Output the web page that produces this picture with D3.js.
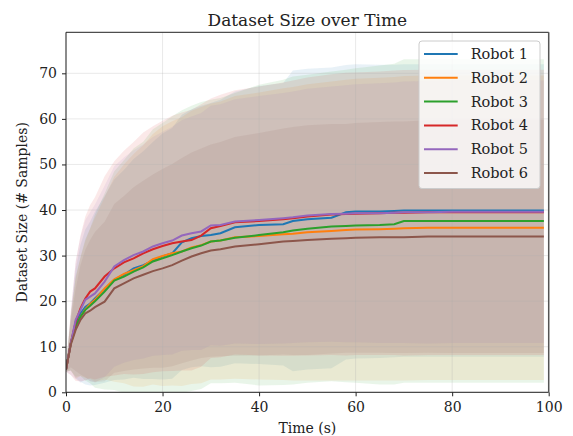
<!DOCTYPE html>
<html>
<head>
<meta charset="utf-8">
<script src="https://cdn.jsdelivr.net/npm/d3@7"></script>
<style>
  body { margin: 0; background: #fff; }
  text { font-family: "DejaVu Serif", serif; fill: #222; }
</style>
</head>
<body>
<svg id="chart" width="573" height="436"></svg>
<script>
// time samples (s)
const time = [0, 1, 2, 3, 4, 5, 6, 8, 10, 12, 14, 16, 18, 20, 22, 24, 26, 28, 30, 32, 35, 40, 45, 47, 50, 55, 58, 60, 65, 68, 70, 75, 80, 90, 99];

// mean dataset size per robot
const robot1Mean = [5, 10.8, 15.1, 17.3, 18.7, 19.5, 20.6, 22.6, 24.7, 25.8, 27.2, 27.9, 28.9, 29.8, 30.5, 32.9, 33.8, 34.3, 34.5, 34.9, 36.2, 36.7, 36.9, 37.6, 38.0, 38.3, 39.5, 39.7, 39.7, 39.8, 39.9, 39.9, 39.9, 39.9, 39.9];
const robot2Mean = [5, 10.8, 14.0, 16.6, 18.2, 19.4, 20.3, 22.8, 24.8, 26.0, 26.8, 27.7, 29.2, 29.9, 30.5, 30.9, 31.8, 32.3, 33.1, 33.3, 34.0, 34.3, 34.7, 34.8, 35.1, 35.4, 35.6, 35.7, 35.8, 35.9, 36.0, 36.1, 36.1, 36.1, 36.1];
const robot3Mean = [5, 10.8, 14.4, 16.6, 18.1, 19.0, 20.0, 22.1, 24.5, 25.4, 26.5, 27.4, 28.7, 29.4, 30.1, 30.9, 31.6, 32.2, 33.1, 33.3, 33.9, 34.5, 35.1, 35.5, 35.9, 36.4, 36.5, 36.6, 36.7, 36.9, 37.6, 37.6, 37.6, 37.6, 37.6];
const robot4Mean = [5, 10.8, 15.5, 18.4, 20.6, 22.1, 22.8, 25.4, 27.2, 28.5, 29.4, 30.5, 31.4, 32.1, 32.7, 33.1, 33.4, 34.4, 36.0, 36.5, 37.3, 37.6, 38.0, 38.2, 38.6, 39.0, 39.1, 39.2, 39.3, 39.4, 39.4, 39.5, 39.5, 39.5, 39.5];
const robot5Mean = [5, 10.8, 15.9, 18.1, 20.3, 21.0, 21.7, 24.3, 27.6, 29.0, 30.1, 30.9, 32.0, 32.7, 33.3, 34.4, 34.9, 35.3, 36.6, 36.7, 37.5, 37.8, 38.2, 38.4, 38.8, 39.1, 39.2, 39.3, 39.3, 39.4, 39.5, 39.5, 39.6, 39.6, 39.6];
const robot6Mean = [5, 10.5, 13.7, 15.9, 17.3, 17.9, 18.7, 19.9, 22.8, 23.9, 25.0, 25.8, 26.6, 27.2, 27.9, 28.9, 29.8, 30.5, 31.1, 31.4, 32.0, 32.5, 33.1, 33.2, 33.4, 33.7, 33.8, 33.9, 34.0, 34.0, 34.0, 34.2, 34.2, 34.2, 34.2];

// standard deviation per robot (shaded band = mean +/- std)
const robot1Std = [0.5, 6, 12, 15, 17, 18, 19, 20.5, 22, 23, 24, 25, 26, 27, 27.5, 28, 28.3, 28.6, 29, 29.3, 29.8, 30.5, 31, 33, 33, 33, 32.3, 32.3, 32.2, 32.1, 32.1, 32.1, 32.1, 32.1, 32.1];
const robot2Std = [0.5, 6, 11, 13, 15, 16.5, 18, 20, 22.5, 24, 25.5, 26.5, 27.5, 28.5, 29, 29.5, 30, 30.3, 30.3, 30.5, 31, 31.5, 32, 32.2, 32.5, 32.8, 33, 33.1, 33.2, 33.3, 33.4, 33.4, 33.4, 33.4, 33.4];
const robot3Std = [0.5, 6, 11, 13, 15.5, 17, 19, 21.5, 24, 25.5, 27, 27.6, 29, 29.7, 30.5, 31, 31.3, 31.5, 31.1, 31.3, 31.8, 33, 33.5, 33.8, 33.8, 34, 34.3, 34.5, 35, 35.2, 35.5, 35.5, 35.5, 35.5, 35.5];
const robot4Std = [0.5, 7, 13, 16, 18, 19, 20, 22, 23.5, 24.5, 25.5, 26.5, 27, 27.5, 28, 28.3, 28.6, 28.8, 28.5, 28.8, 29, 29.5, 30, 30.2, 30.5, 30.8, 31, 31, 31.1, 31.2, 31.3, 31.3, 31.3, 31.3, 31.3];
const robot5Std = [0.5, 7, 13, 16, 17.5, 18.5, 19.5, 21, 22, 22.5, 23, 23.5, 24, 24.5, 25, 25.3, 25.6, 26, 26.3, 26.5, 26.8, 27.2, 27.5, 27.6, 27.8, 28, 28.2, 28.3, 28.5, 28.6, 28.7, 28.8, 28.8, 28.8, 28.8];
const robot6Std = [0.5, 5, 9, 12, 14, 15.5, 16.5, 17.5, 18.5, 19.2, 20, 20.6, 21.2, 21.8, 22.2, 22.5, 22.8, 23, 23.3, 23.5, 24, 24.4, 24.8, 25, 25.2, 25.2, 25.1, 25.2, 25.3, 25.4, 25.4, 25.5, 25.6, 25.6, 25.6];

const labels = ["Robot 1", "Robot 2", "Robot 3", "Robot 4", "Robot 5", "Robot 6"];
const colors = ["#1f77b4", "#ff7f0e", "#2ca02c", "#d62728", "#9467bd", "#8c564b"];
const means = [robot1Mean, robot2Mean, robot3Mean, robot4Mean, robot5Mean, robot6Mean];
const stds = [robot1Std, robot2Std, robot3Std, robot4Std, robot5Std, robot6Std];

const xTicks = [0, 20, 40, 60, 80, 100];
const yTicks = [0, 10, 20, 30, 40, 50, 60, 70];

const svg = d3.select("#chart");
const margin = { top: 32.3, right: 24.3, bottom: 43.7, left: 66 };
const W = 573, H = 436;
const w = W - margin.left - margin.right;
const h = H - margin.top - margin.bottom;

const x = d3.scaleLinear().domain([0, 100]).range([0, w]);
const y = d3.scaleLinear().domain([0, 79]).range([h, 0]);

svg.append("defs").append("clipPath").attr("id", "plot-clip")
  .append("rect").attr("width", w).attr("height", h);

const g = svg.append("g").attr("transform", `translate(${margin.left},${margin.top})`);

const series = labels.map((name, i) => ({
  name,
  color: colors[i],
  points: time.map((t, j) => ({ t, m: means[i][j], s: stds[i][j] }))
}));

// bands
const area = d3.area()
  .x(d => x(d.t))
  .y0(d => y(d.m - d.s))
  .y1(d => y(d.m + d.s));

const bands = g.append("g").attr("clip-path", "url(#plot-clip)");
series.forEach(s => {
  bands.append("path")
    .datum(s.points)
    .attr("d", area)
    .attr("fill", s.color)
    .attr("fill-opacity", 0.1);
});

// grid
const grid = g.append("g");
grid.selectAll(".gx").data(xTicks).join("line")
  .attr("x1", d => x(d)).attr("x2", d => x(d))
  .attr("y1", 0).attr("y2", h)
  .attr("stroke", "#b0b0b0").attr("stroke-opacity", 0.35).attr("stroke-width", 0.8);
grid.selectAll(".gy").data(yTicks).join("line")
  .attr("x1", 0).attr("x2", w)
  .attr("y1", d => y(d)).attr("y2", d => y(d))
  .attr("stroke", "#b0b0b0").attr("stroke-opacity", 0.35).attr("stroke-width", 0.8);

// mean lines
const line = d3.line().x(d => x(d.t)).y(d => y(d.m));
const lines = g.append("g").attr("clip-path", "url(#plot-clip)");
series.forEach(s => {
  lines.append("path")
    .datum(s.points)
    .attr("d", line)
    .attr("fill", "none")
    .attr("stroke", s.color)
    .attr("stroke-width", 2);
});

// axes
const xAxis = g.append("g")
  .attr("transform", `translate(0,${h})`)
  .call(d3.axisBottom(x).tickValues(xTicks).tickSize(4).tickPadding(6));
const yAxis = g.append("g")
  .call(d3.axisLeft(y).tickValues(yTicks).tickSize(4).tickPadding(5));
[xAxis, yAxis].forEach(a => {
  a.select(".domain").remove();
  a.selectAll("line").attr("stroke", "#222").attr("stroke-width", 1);
  a.selectAll("text").attr("font-family", "DejaVu Serif").attr("font-size", 14).attr("fill", "#222");
});

// spines
g.append("line").attr("x1", 0).attr("x2", w).attr("y1", 0).attr("y2", 0).attr("stroke", "#222");
g.append("line").attr("x1", 0).attr("x2", w).attr("y1", h).attr("y2", h).attr("stroke", "#222");
g.append("line").attr("x1", 0).attr("x2", 0).attr("y1", 0).attr("y2", h).attr("stroke", "#222");
g.append("line").attr("x1", w).attr("x2", w).attr("y1", 0).attr("y2", h).attr("stroke", "#555").attr("stroke-width", 1.5);

// titles
svg.append("text")
  .attr("x", margin.left + w / 2).attr("y", 26)
  .attr("text-anchor", "middle").attr("font-size", 17)
  .text("Dataset Size over Time");
svg.append("text")
  .attr("x", margin.left + w / 2).attr("y", 433)
  .attr("text-anchor", "middle").attr("font-size", 14)
  .text("Time (s)");
svg.append("text")
  .attr("transform", `translate(27,${margin.top + h / 2}) rotate(-90)`)
  .attr("text-anchor", "middle").attr("font-size", 14)
  .text("Dataset Size (# Samples)");

// legend
const lg = svg.append("g").attr("transform", "translate(419,41)");
lg.append("rect")
  .attr("width", 121).attr("height", 147.5).attr("rx", 3)
  .attr("fill", "#fff").attr("fill-opacity", 0.8)
  .attr("stroke", "#ccc").attr("stroke-width", 1);
series.forEach((s, i) => {
  const ry = 13 + i * 23.8;
  lg.append("line")
    .attr("x1", 5).attr("x2", 38.7).attr("y1", ry).attr("y2", ry)
    .attr("stroke", s.color).attr("stroke-width", 2);
  lg.append("text")
    .attr("x", 51.7).attr("y", ry + 5)
    .attr("font-size", 14.5)
    .text(s.name);
});
</script>
</body>
</html>
